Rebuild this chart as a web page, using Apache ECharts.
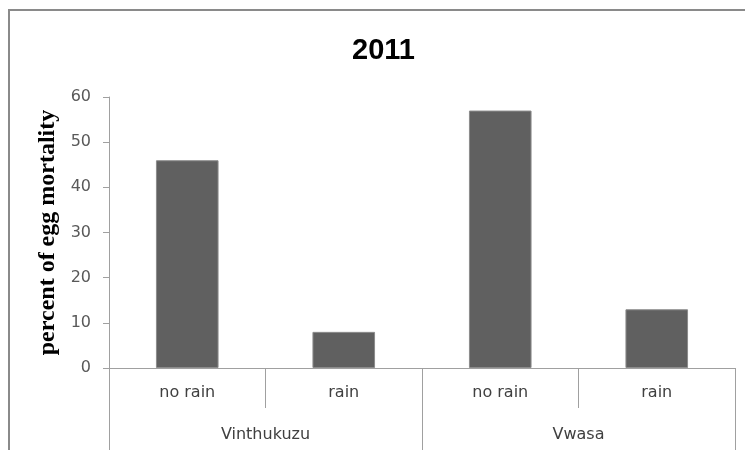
<!DOCTYPE html>
<html>
<head>
<meta charset="utf-8">
<script src="https://cdn.jsdelivr.net/npm/echarts@6/dist/echarts.min.js"></script>
<style>
  html, body { margin: 0; padding: 0; background: #fff; }
  #chart { width: 745px; height: 450px; }
</style>
</head>
<body>
<div id="chart"></div>
<script>
// data
const conditions = ["no rain", "rain", "no rain", "rain"];
const sites = ["Vinthukuzu", "Vwasa"];
const mortality = [46, 8, 57, 13];
const yTicks = { min: 0, max: 60, interval: 10 };

const chart = echarts.init(document.getElementById("chart"));

const option = {
  animation: false,
  title: {
    text: "2011",
    left: 347,
    top: 31,
    textStyle: {
      fontFamily: "Liberation Sans",
      fontWeight: "bold",
      fontSize: 29,
      color: "#000",
    },
  },
  graphic: [
    {
      type: "rect",
      shape: { x: 9, y: 10, width: 800, height: 500 },
      style: { fill: "none", stroke: "#8a8a8a", lineWidth: 2 },
      silent: true,
    },
  ],
  grid: {
    left: 109,
    top: 97,
    right: 10,
    bottom: 82,
    containLabel: false,
  },
  xAxis: [
    {
      type: "category",
      data: conditions,
      position: "bottom",
      axisLine: { lineStyle: { color: "#a0a0a0", width: 1 } },
      axisTick: {
        show: true,
        interval: 0,
        length: 40,
        lineStyle: { color: "#a0a0a0" },
      },
      axisLabel: {
        interval: 0,
        margin: 17,
        fontFamily: "DejaVu Sans",
        fontSize: 16,
        color: "#404040",
      },
    },
    {
      type: "category",
      data: sites,
      position: "bottom",
      offset: 0,
      axisLine: { show: false },
      axisTick: {
        show: true,
        interval: 0,
        length: 82,
        lineStyle: { color: "#a0a0a0" },
      },
      axisLabel: {
        interval: 0,
        margin: 59,
        fontFamily: "DejaVu Sans",
        fontSize: 16,
        color: "#404040",
      },
    },
  ],
  yAxis: {
    type: "value",
    min: yTicks.min,
    max: yTicks.max,
    interval: yTicks.interval,
    name: "percent of egg mortality",
    nameLocation: "middle",
    nameGap: 49,
    nameTextStyle: {
      fontFamily: "Liberation Serif",
      fontWeight: "bold",
      fontSize: 24,
      color: "#000",
    },
    axisLine: { show: true, lineStyle: { color: "#a0a0a0" } },
    axisTick: { show: true, length: 6, lineStyle: { color: "#a0a0a0" } },
    splitLine: { show: false },
    axisLabel: {
      margin: 18,
      fontFamily: "DejaVu Sans",
      fontSize: 16,
      color: "#595959",
    },
  },
  series: [
    {
      type: "bar",
      xAxisIndex: 0,
      data: mortality,
      barCategoryGap: "60%",
      itemStyle: {
        color: "#606060",
        borderColor: "#8c8c8c",
        borderWidth: 1,
      },
    },
  ],
};

chart.setOption(option);
</script>
</body>
</html>
